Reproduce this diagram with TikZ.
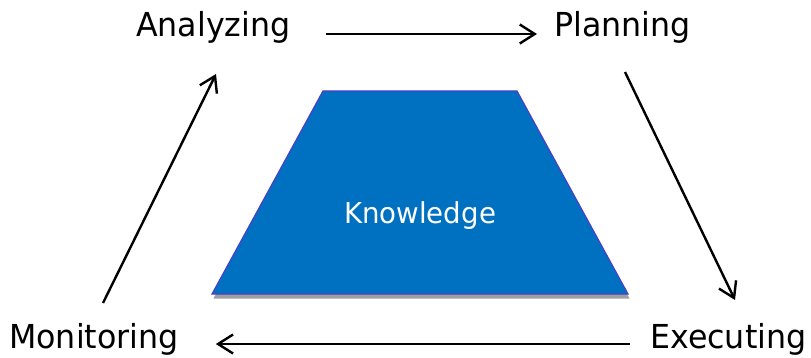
\documentclass[tikz,border=0pt]{standalone}
\usepackage{fontspec}
\setmainfont{DejaVu Sans}[FakeStretch=0.96]
\usetikzlibrary{arrows.meta,shadows}
\definecolor{kfill}{HTML}{0070C0}
\definecolor{kedge}{HTML}{4A3FC8}
\tikzset{
  phase/.style={font=\fontsize{33}{38}\selectfont, inner sep=0pt, anchor=base west},
  flow/.style={line width=2.4pt, -{Straight Barb[length=15pt,width=19pt]}},
  kbase/.style={fill=kfill, draw=kedge, line width=1.2pt, line join=miter,
    drop shadow={shadow xshift=1.5pt, shadow yshift=-4.5pt, fill=black!75, opacity=.5}},
}
\begin{document}
\begin{tikzpicture}[x=1pt,y=1pt]
  \useasboundingbox (0,0) rectangle (811,-358);

  % knowledge base in the middle of the loop
  \path[kbase] (323,-91) -- (517,-91) -- (628,-294) -- (212,-294) -- cycle;
  \node[font=\fontsize{28.8}{33}\selectfont, text=white, inner sep=0pt, anchor=base]
    (kn) at (420,-223) {Knowledge};

  % the four phases
  \node[phase] (an) at (136,-37)  {Analyzing};
  \node[phase] (pl) at (554,-37)  {Planning};
  \node[phase] (ex) at (650,-348) {Executing};
  \node[phase] (mo) at (9,-348)   {Monitoring};

  % cycle arrows
  \draw[flow] ([shift={(35,3)}]an.base east) -- ([shift={(-17,3)}]pl.base west);
  \draw[flow] ([shift={(71,-35)}]pl.base west) -- ([shift={(85,48)}]ex.base west);
  \draw[flow] ([shift={(-20,4)}]ex.base west) -- ([shift={(37,4)}]mo.base east);
  \draw[flow] ([shift={(94,45)}]mo.base west) -- ([shift={(80,-37)}]an.base west);
\end{tikzpicture}
\end{document}
